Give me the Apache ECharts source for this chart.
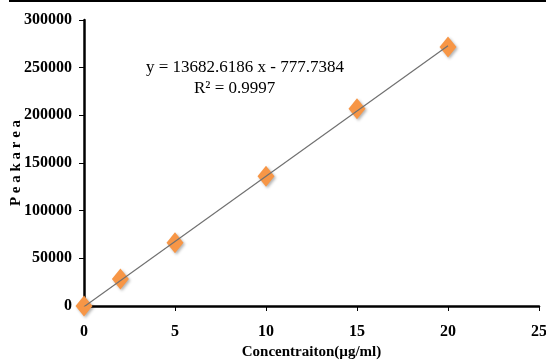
<!DOCTYPE html>
<html><head><meta charset="utf-8">
<script src="https://cdn.jsdelivr.net/npm/echarts@6/dist/echarts.min.js"></script>
<style>html,body{margin:0;padding:0;background:#fff}#c{width:546px;height:362px}</style>
</head><body><div id="c"></div>
<script>
var concentrations = [0, 2, 5, 10, 15, 20];
var peakAreas = [0, 28400, 66300, 136000, 207000, 271600];
var slope = 13682.6186;
var intercept = -777.7384;
var trendX = [0, 20];
var xTicks = [0, 5, 10, 15, 20, 25];
var yTicks = [0, 50000, 100000, 150000, 200000, 250000, 300000];
var equationText = 'y = 13682.6186 x - 777.7384';
var r2Text = 'R² = 0.9997';
var xName = 'Concentraiton(µg/ml)';
var yName = 'P e a k a r e a';

var chart = echarts.init(document.getElementById('c'));
var font = '"Liberation Serif","Times New Roman",serif';
chart.setOption({
  animation: false,
  grid: {left: 84, top: 20, right: 7, bottom: 56, containLabel: false, outerBoundsMode: 'none'},
  xAxis: {
    type: 'value', min: 0, max: 25, interval: 5,
    splitLine: {show: false},
    axisLine: {lineStyle: {color: '#000', width: 2.5}},
    axisTick: {length: 5, lineStyle: {color: '#000', width: 1}},
    axisLabel: {color: '#000', fontFamily: font, fontWeight: 'bold', fontSize: 16, margin: 18,
      formatter: function(v){return String(v);}},
    name: xName, nameLocation: 'middle', nameGap: 38,
    nameTextStyle: {color: '#000', fontFamily: font, fontWeight: 'bold', fontSize: 15}
  },
  yAxis: {
    type: 'value', min: 0, max: 300000, interval: 50000,
    splitLine: {show: false},
    axisLine: {show: true, lineStyle: {color: '#000', width: 2.5}},
    axisTick: {show: true, length: 5, lineStyle: {color: '#000', width: 1}},
    axisLabel: {color: '#000', fontFamily: font, fontWeight: 'bold', fontSize: 16, margin: 12,
      formatter: function(v){return String(v);}}
  },
  series: [
    {
      type: 'line', data: trendX.map(function(x){return [x, slope*x + intercept];}),
      symbol: 'none', lineStyle: {color: '#707070', width: 1.2}, z: 3
    },
    {
      type: 'scatter', data: concentrations.map(function(x,i){return [x, peakAreas[i]];}),
      symbol: 'diamond', symbolSize: [17, 21],
      itemStyle: {color: '#F79646', opacity: 1, shadowColor: 'rgba(0,0,0,0.3)', shadowBlur: 3, shadowOffsetX: 1.5, shadowOffsetY: 1.5},
      z: 2
    }
  ],
  graphic: [
    {type: 'rect', shape: {x: 9, y: 0, width: 537, height: 2}, style: {fill: '#000'}},
    {type: 'text', x: 16, y: 163, rotation: Math.PI / 2,
      style: {text: yName, font: 'bold 15px ' + font, fill: '#000', align: 'center', verticalAlign: 'middle'}},
    {type: 'text', left: 146, top: 59, style: {text: equationText, font: '17px ' + font, fill: '#000'}},
    {type: 'text', left: 194, top: 80, style: {text: r2Text, font: '17px ' + font, fill: '#000'}}
  ]
});
</script></body></html>
